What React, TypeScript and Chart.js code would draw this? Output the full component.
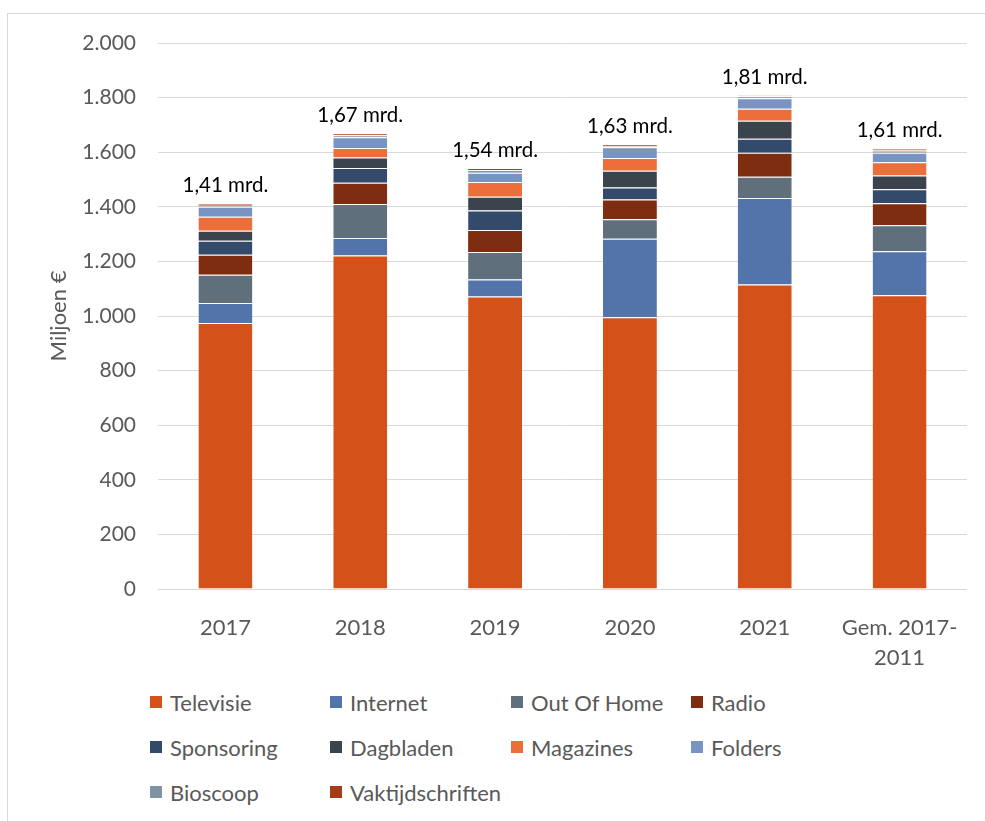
import React, { useEffect, useRef } from "react";
import { Chart, registerables } from "chart.js";

Chart.register(...registerables);

const categories: (string | string[])[] = ["2017", "2018", "2019", "2020", "2021", ["Gem. 2017-", "2011"]];

const televisie = [974, 1222, 1071, 995, 1115, 1076];
const internet = [74, 64, 63, 288, 317, 161];
const outOfHome = [103, 124, 100, 71, 78, 95];
const radio = [73, 78, 81, 73, 88, 81];
const sponsoring = [52, 54, 71, 44, 51, 51];
const dagbladen = [36, 39, 51, 61, 66, 51];
const magazines = [52, 34, 54, 47, 44, 48];
const folders = [36, 40, 34, 39, 39, 35];
const bioscoop = [4, 7, 10, 3, 7, 8];
const vaktijdschriften = [8, 7, 7, 8, 3, 7];

const seriesNames = [
  "Televisie",
  "Internet",
  "Out Of Home",
  "Radio",
  "Sponsoring",
  "Dagbladen",
  "Magazines",
  "Folders",
  "Bioscoop",
  "Vaktijdschriften",
];
const seriesValues = [
  televisie,
  internet,
  outOfHome,
  radio,
  sponsoring,
  dagbladen,
  magazines,
  folders,
  bioscoop,
  vaktijdschriften,
];
const seriesColors = [
  "#D4511A",
  "#5274AB",
  "#5F6F7C",
  "#7E2D11",
  "#334A6B",
  "#3B434D",
  "#EC6E3B",
  "#7894C3",
  "#7F93A2",
  "#A53E16",
];

const FONT = "Lato, 'Open Sans', sans-serif";
const TEXT = "#595959";

function fmtThousands(v: number): string {
  return String(Math.round(v)).replace(/\B(?=(\d{3})+(?!\d))/g, ".");
}

const totalLabels = {
  id: "totalLabels",
  afterDatasetsDraw(chart: any) {
    const { ctx } = chart;
    const y = chart.scales.y;
    const meta0 = chart.getDatasetMeta(0);
    ctx.save();
    ctx.font = `20.5px ${FONT}`;
    ctx.fillStyle = "#000000";
    ctx.textAlign = "center";
    ctx.textBaseline = "middle";
    categories.forEach((_, i) => {
      const total = seriesValues.reduce((s, arr) => s + arr[i], 0);
      const txt = (total / 1000).toFixed(2).replace(".", ",") + " mrd.";
      const x = meta0.data[i].x;
      ctx.fillText(txt, x, y.getPixelForValue(total) - 18);
    });
    ctx.restore();
  },
};

export default function App() {
  const canvasRef = useRef<HTMLCanvasElement | null>(null);

  useEffect(() => {
    if (!canvasRef.current) return;
    const chart = new Chart(canvasRef.current, {
      type: "bar",
      data: {
        labels: categories as any,
        datasets: seriesNames.map((name, k) => ({
          label: name,
          data: seriesValues[k],
          backgroundColor: seriesColors[k],
          borderColor: "#FFFFFF",
          borderWidth: { top: 1, bottom: 0, left: 0, right: 0 },
          borderSkipped: false,
          barPercentage: 0.4,
          categoryPercentage: 1,
        })),
      },
      options: {
        animation: false,
        responsive: false,
        maintainAspectRatio: false,
        layout: { padding: { top: 29, right: 18, bottom: 0, left: 0 } },
        plugins: {
          legend: { display: false },
          tooltip: { enabled: false },
        },
        scales: {
          x: {
            stacked: true,
            grid: { display: false },
            border: { display: false },
            ticks: {
              color: TEXT,
              font: { family: FONT, size: 22, lineHeight: 1.36 },
              padding: 16,
              maxRotation: 0,
              autoSkip: false,
            },
            afterFit(scale: any) {
              scale.height = 85;
            },
          },
          y: {
            stacked: true,
            min: 0,
            max: 2000,
            grid: { color: "#D9D9D9", lineWidth: 1, drawTicks: false },
            border: { display: false },
            ticks: {
              stepSize: 200,
              color: TEXT,
              font: { family: FONT, size: 21 },
              padding: 22,
              callback: (v: any) => fmtThousands(Number(v)),
            },
            title: {
              display: true,
              text: "Miljoen €",
              color: TEXT,
              font: { family: FONT, size: 22 },
              padding: { top: 38, bottom: 0 },
            },
            afterFit(scale: any) {
              scale.width = 150;
              scale.paddingTop = 0;
              scale.paddingBottom = 0;
            },
          },
        },
      },
      plugins: [totalLabels],
    });
    return () => chart.destroy();
  }, []);

  const colLeft = [142, 322, 503, 683];
  const rowCenter = [688, 733, 778];

  return (
    <div
      style={{
        position: "fixed",
        left: 7,
        top: 13,
        width: 978,
        height: 808,
        borderLeft: "1px solid #D9D9D9",
        borderTop: "1px solid #D9D9D9",
        boxSizing: "border-box",
        background: "#FFFFFF",
        overflow: "hidden",
      }}
    >
      <canvas
        ref={canvasRef}
        width={977}
        height={660}
        style={{ position: "absolute", left: 0, top: 0, width: 977, height: 660 }}
      />
      {seriesNames.map((name, k) => {
        const col = k % 4;
        const row = Math.floor(k / 4);
        return (
          <div
            key={name}
            style={{
              position: "absolute",
              left: colLeft[col],
              top: rowCenter[row] - 15,
              height: 30,
              display: "flex",
              alignItems: "center",
              fontFamily: FONT,
              fontSize: 22,
              color: TEXT,
              whiteSpace: "nowrap",
            }}
          >
            <span
              style={{
                display: "inline-block",
                width: 12,
                height: 12,
                background: seriesColors[k],
                marginRight: 8,
              }}
            />
            <span>{name}</span>
          </div>
        );
      })}
    </div>
  );
}
